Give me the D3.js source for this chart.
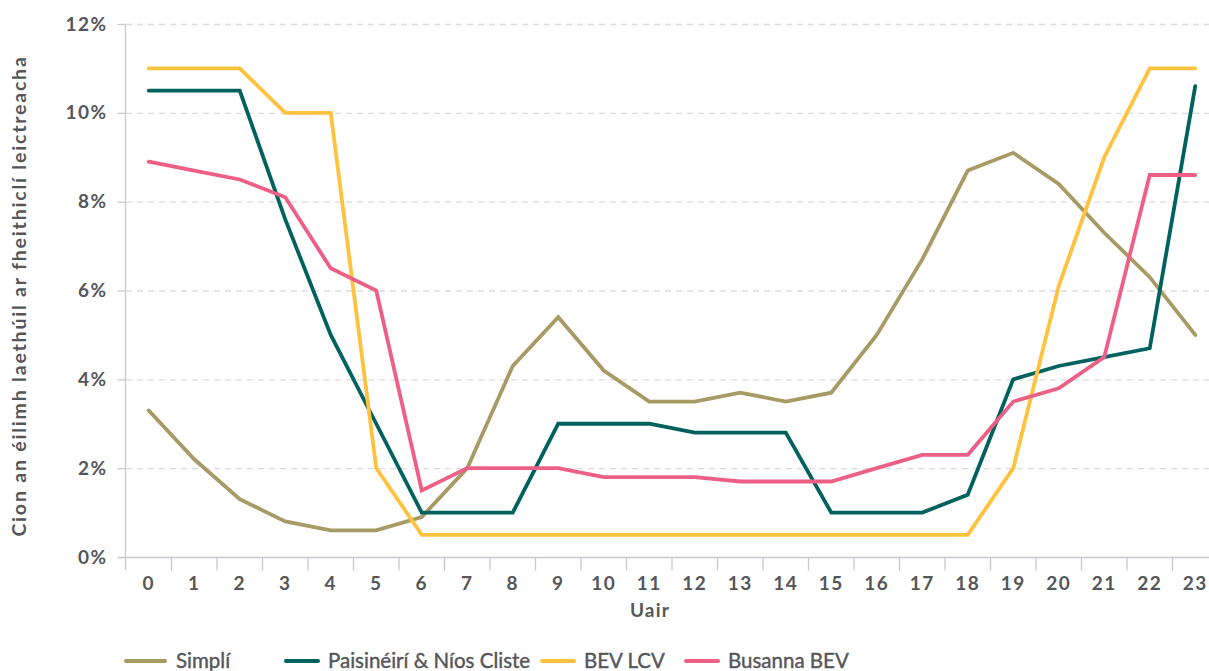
<!DOCTYPE html>
<html><head><meta charset="utf-8">
<script src="https://cdn.jsdelivr.net/npm/d3@7"></script>
<style>body{margin:0;background:#fff}svg{display:block}</style>
</head><body><svg id="c" width="1209" height="671"></svg>
<script>
const hours = ["0","1","2","3","4","5","6","7","8","9","10","11","12","13","14","15","16","17","18","19","20","21","22","23"];
const yTicks = [0, 2, 4, 6, 8, 10, 12];
const seriesNames = ["Simplí", "Paisinéirí & Níos Cliste", "BEV LCV", "Busanna BEV"];
const simpli = [3.3,2.2,1.3,0.8,0.6,0.6,0.9,2.0,4.3,5.4,4.2,3.5,3.5,3.7,3.5,3.7,5.0,6.7,8.7,9.1,8.4,7.3,6.3,5.0];
const paisineiri = [10.5,10.5,10.5,7.6,5.0,3.0,1.0,1.0,1.0,3.0,3.0,3.0,2.8,2.8,2.8,1.0,1.0,1.0,1.4,4.0,4.3,4.5,4.7,10.6];
const bevLcv = [11,11,11,10,10,2.0,0.5,0.5,0.5,0.5,0.5,0.5,0.5,0.5,0.5,0.5,0.5,0.5,0.5,2.0,6.1,9.0,11,11];
const busanna = [8.9,8.7,8.5,8.1,6.5,6.0,1.5,2.0,2.0,2.0,1.8,1.8,1.8,1.7,1.7,1.7,2.0,2.3,2.3,3.5,3.8,4.5,8.6,8.6];
const colors = ["#A89A64", "#00625F", "#FFC23E", "#EE5F86"];
const allSeries = [simpli, paisineiri, bevLcv, busanna];

(function () {
const svg = d3.select("#c");
const font = "Lato, 'Open Sans', sans-serif";
const textCol = "#555659";
const pLeft = 126, pRight = 1218, pTop = 24, pBottom = 557;

const x = d3.scaleBand().domain(hours).range([pLeft, pRight]).paddingInner(0).paddingOuter(0);
const y = d3.scaleLinear().domain([0, 12]).range([pBottom, pTop]);

// gridlines
const grid = svg.append("g");
grid.selectAll("line.g").data(yTicks.filter(d => d > 0)).join("line")
  .attr("x1", pLeft).attr("x2", 1209)
  .attr("y1", d => y(d) + 0.5).attr("y2", d => y(d) + 0.5)
  .attr("stroke", "#dcdcdc").attr("stroke-width", 1.3).attr("stroke-dasharray", "6,5");

// y axis
const yAxis = svg.append("g").attr("transform", `translate(${pLeft - 0.5},0)`)
  .call(d3.axisLeft(y).tickValues(yTicks).tickFormat(d => d + "%").tickSize(8).tickPadding(10));
yAxis.select(".domain").attr("stroke", "#c8c8d0").attr("stroke-width", 1.3).attr("d", `M0,${pTop}V${pBottom + 13}`);
yAxis.selectAll(".tick line").attr("stroke", "#c8c8d0").attr("stroke-width", 1.3);
yAxis.selectAll(".tick text").attr("fill", textCol).style("font", `bold 19px ${font}`).style("letter-spacing", "1.5px");

// x axis
const xAxis = svg.append("g").attr("transform", `translate(0,${pBottom + 0.5})`)
  .call(d3.axisBottom(x).tickSize(0).tickPadding(19));
xAxis.select(".domain").attr("stroke", "#c8c8d0").attr("stroke-width", 1.3).attr("d", `M${pLeft - 8},0H1209`);
xAxis.selectAll(".tick text").attr("fill", textCol).style("font", `bold 19px ${font}`).style("letter-spacing", "1.5px");
xAxis.selectAll("line.b").data(hours.slice(1)).join("line").attr("class", "b")
  .attr("x1", d => x(d)).attr("x2", d => x(d)).attr("y1", 0).attr("y2", 13)
  .attr("stroke", "#c8c8d0").attr("stroke-width", 1.3);

// axis titles
svg.append("text").attr("x", 650).attr("y", 617).attr("text-anchor", "middle")
  .attr("fill", textCol).style("font", `bold 19px ${font}`).style("letter-spacing", "1.2px").text("Uair");
svg.append("text").attr("transform", `translate(26,296) rotate(-90)`).attr("text-anchor", "middle")
  .attr("fill", textCol).style("font", `bold 19.5px ${font}`).style("letter-spacing", "1.8px")
  .text("Cion an éilimh laethúil ar fheithiclí leictreacha");

// lines
const line = d3.line().x((d, i) => x(hours[i]) + x.bandwidth() / 2).y(d => y(d));
svg.append("g").selectAll("path").data(allSeries).join("path")
  .attr("d", d => line(d)).attr("fill", "none")
  .attr("stroke", (d, i) => colors[i]).attr("stroke-width", 3.8)
  .attr("stroke-linejoin", "miter").attr("stroke-linecap", "round");

// legend
const legX = [126, 286, 542, 686];
const leg = svg.append("g").selectAll("g").data(seriesNames).join("g")
  .attr("transform", (d, i) => `translate(${legX[i]},661)`);
leg.append("line").attr("x1", 0).attr("x2", (d, i) => i === 0 ? 39 : 32).attr("y1", 0).attr("y2", 0)
  .attr("stroke", (d, i) => colors[i]).attr("stroke-width", 4).attr("stroke-linecap", "round");
leg.append("text").attr("x", (d, i) => i === 0 ? 50 : 42).attr("y", 7)
  .attr("fill", textCol).style("font", `normal 20.5px ${font}`).style("stroke", textCol).style("stroke-width", "0.4px").text(d => d);
})();
</script></body></html>
